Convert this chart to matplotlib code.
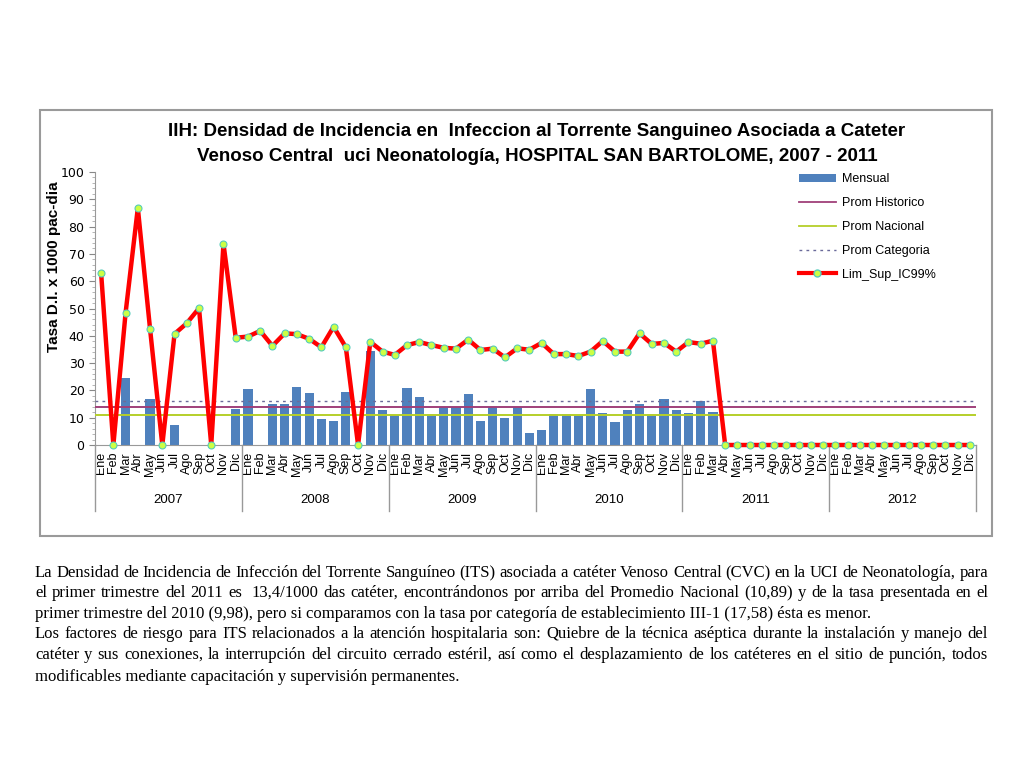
import numpy as np
import matplotlib
matplotlib.use("Agg")
import matplotlib.pyplot as plt
from matplotlib.patches import Rectangle, Patch
from matplotlib.lines import Line2D
from matplotlib.ticker import MultipleLocator

# datos
anios = ["2007", "2008", "2009", "2010", "2011", "2012"]
meses = ["Ene", "Feb", "Mar", "Abr", "May", "Jun", "Jul", "Ago", "Sep", "Oct", "Nov", "Dic"]

mensual = [0, 0, 24.5, 0, 17, 0, 7.3, 0, 0, 0, 0, 13.3,
           20.5, 0, 15, 15, 21.4, 19, 9.5, 8.7, 19.4, 0, 34.4, 12.7,
           10.9, 20.9, 17.5, 10.7, 14, 14, 18.6, 8.7, 14, 9.9, 14, 4.4,
           5.5, 11.5, 11.5, 10.6, 20.5, 11.8, 8.3, 12.7, 15, 10.6, 17, 12.7,
           11.8, 16.2, 12.2, 0, 0, 0, 0, 0, 0, 0, 0, 0,
           0, 0, 0, 0, 0, 0, 0, 0, 0, 0, 0, 0]

lim_sup = [63, 0, 48.4, 86.8, 42.5, 0, 40.7, 44.6, 50.1, 0, 73.7, 39.3,
           39.7, 41.8, 36.3, 40.9, 40.6, 38.9, 35.8, 43.3, 35.8, 0, 37.8, 34.2,
           33, 36.6, 37.7, 36.6, 35.6, 35.3, 38.6, 34.8, 35.3, 32.1, 35.4, 34.9,
           37.4, 33.3, 33.3, 32.6, 34.2, 38.1, 34.2, 34.2, 40.9, 37, 37.4, 34.2,
           37.7, 37.1, 38.2, 0, 0, 0, 0, 0, 0, 0, 0, 0,
           0, 0, 0, 0, 0, 0, 0, 0, 0, 0, 0, 0]

prom_historico = 14.0
prom_nacional = 10.89
prom_categoria = 16.1

titulo = ("IIH: Densidad de Incidencia en  Infeccion al Torrente Sanguineo Asociada a Cateter\n"
          "Venoso Central  uci Neonatología, HOSPITAL SAN BARTOLOME, 2007 - 2011")

parrafo1 = ["La Densidad de Incidencia de Infección del Torrente Sanguíneo (ITS) asociada a catéter Venoso Central (CVC) en la UCI de Neonatología, para",
            "el primer trimestre del 2011 es  13,4/1000 das catéter, encontrándonos por arriba del Promedio Nacional (10,89) y de la tasa presentada en el",
            "primer trimestre del 2010 (9,98), pero si comparamos con la tasa por categoría de establecimiento III-1 (17,58) ésta es menor."]
parrafo2 = ["Los factores de riesgo para ITS relacionados a la atención hospitalaria son: Quiebre de la técnica aséptica durante la instalación y manejo del",
            "catéter y sus conexiones, la interrupción del circuito cerrado estéril, así como el desplazamiento de los catéteres en el sitio de punción, todos",
            "modificables mediante capacitación y supervisión permanentes."]

W, H = 1024, 768
fig = plt.figure(figsize=(W / 100, H / 100), dpi=100)

# marco del grafico
fig.patches.append(Rectangle((40 / W, 1 - 536 / H), 952 / W, 426 / H, transform=fig.transFigure,
                             fill=False, edgecolor="#9a9a9a", lw=1.5))

ax = fig.add_axes([95 / W, 1 - 445 / H, 881 / W, 273 / H])
x = np.arange(len(mensual))
ax.bar(x, mensual, width=0.75, color="#4F81BD", zorder=2)
ax.axhline(prom_historico, color="#A0407A", lw=1.4, zorder=3)
ax.axhline(prom_nacional, color="#B5CF2A", lw=1.4, zorder=3)
ax.axhline(prom_categoria, color="#6A6A9A", lw=1.0, ls=(0, (2, 3)), zorder=3)
ax.plot(x, lim_sup, color="#FF0000", lw=3.2, marker="o", ms=5,
        mfc="#CCFF44", mec="#55CCBB", mew=0.8, zorder=4, clip_on=False)

ax.set_xlim(-0.5, len(mensual) - 0.5)
ax.set_ylim(0, 100)
ax.yaxis.set_major_locator(MultipleLocator(10))
ax.yaxis.set_minor_locator(MultipleLocator(2))
ax.tick_params(axis="y", labelsize=9, color="#888888", length=4)
ax.tick_params(axis="y", which="minor", color="#aaaaaa", length=2)
ax.set_xticks(x)
ax.set_xticklabels(meses * len(anios), rotation=90, fontsize=9, family="Liberation Sans")
ax.tick_params(axis="x", length=0, pad=5)
for s in ["top", "right"]:
    ax.spines[s].set_visible(False)
for s in ["left", "bottom"]:
    ax.spines[s].set_color("#999999")

# grupos de anios
for i in range(len(anios) + 1):
    ax.plot([i * 12 - 0.5] * 2, [0, -0.24], transform=ax.get_xaxis_transform(),
            color="#999999", lw=1, clip_on=False)
for i, a in enumerate(anios):
    ax.text(i * 12 + 5.5, -0.2, a, transform=ax.get_xaxis_transform(),
            ha="center", va="center", fontsize=9.5, family="Liberation Sans")

ax.text(-0.046, 0.652, "Tasa D.I. x 1000 pac-dia", transform=ax.transAxes, rotation=90,
        ha="center", va="center", fontsize=11, fontweight="bold", family="Liberation Sans")

fig.text(537 / W, 1 - 144 / H, titulo, ha="center", va="center", fontsize=13.5,
         fontweight="bold", family="Liberation Sans", linespacing=1.55)

handles = [Patch(facecolor="#4F81BD"),
           Line2D([], [], color="#A0407A", lw=1.3),
           Line2D([], [], color="#B5CF2A", lw=1.3),
           Line2D([], [], color="#6A6A9A", lw=1.0, ls=(0, (2, 3))),
           Line2D([], [], color="#FF0000", lw=3, marker="o", ms=5, mfc="#CCFF44", mec="#55CCBB")]
labels = ["Mensual", "Prom Historico", "Prom Nacional", "Prom Categoria", "Lim_Sup_IC99%"]
fig.legend(handles, labels, loc="upper left", bbox_to_anchor=(788 / W, 1 - 162 / H),
           frameon=False, handlelength=2.9, handletextpad=0.5, labelspacing=0.95,
           prop={"family": "Liberation Sans", "size": 9})

# texto inferior justificado
renderer = fig.canvas.get_renderer()
x0, x1 = 35, 988
font = dict(family="Liberation Serif", fontsize=12)


def ancho(s):
    t = fig.text(0, 0, s, **font)
    w = t.get_window_extent(renderer).width
    t.remove()
    return w


def linea(s, ypx, justificar):
    if not justificar:
        fig.text(x0 / W, 1 - ypx / H, s, va="center", ha="left", **font)
        return
    palabras = s.split(" ")
    anchos = [ancho(p) if p else 0 for p in palabras]
    hueco = (x1 - x0 - sum(anchos)) / (len(palabras) - 1)
    pos = x0
    for p, w in zip(palabras, anchos):
        if p:
            fig.text(pos / W, 1 - ypx / H, p, va="center", ha="left", **font)
        pos += w + hueco


ys = [573, 593, 614, 634, 655, 677]
lineas = parrafo1 + parrafo2
for i, (s, y) in enumerate(zip(lineas, ys)):
    linea(s, y, i not in (2, 5))

fig.savefig("out.png", dpi=100)
